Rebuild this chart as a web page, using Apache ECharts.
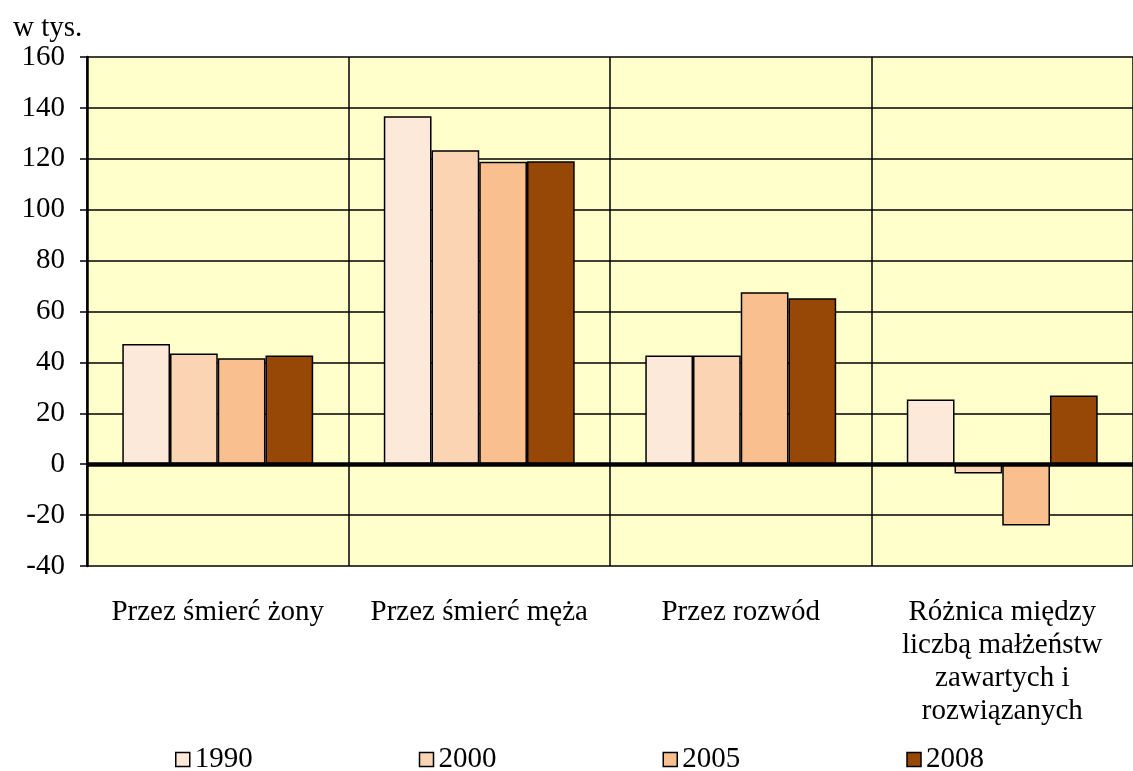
<!DOCTYPE html>
<html><head><meta charset="utf-8">
<script src="https://cdn.jsdelivr.net/npm/echarts@6/dist/echarts.min.js"></script>
<style>html,body{margin:0;padding:0;background:#fff}#c{width:1133px;height:771px}</style>
</head><body><div id="c"></div>
<script>
const categories = ['Przez śmierć żony', 'Przez śmierć męża', 'Przez rozwód', 'Różnica między\nliczbą małżeństw\nzawartych i\nrozwiązanych'];
const years = ['1990', '2000', '2005', '2008'];
const v1990 = [47.2, 136.7, 42.7, 25.4];
const v2000 = [43.5, 123.4, 42.7, -3.7];
const v2005 = [41.6, 118.8, 67.6, -24.1];
const v2008 = [42.7, 119.0, 65.2, 27.0];
const colors = ['#FDE9D9', '#FBD4B4', '#F9BF8F', '#974806'];
const yTicks = {min: -40, max: 160, interval: 20};

const font = 'Liberation Serif, Times New Roman, serif';
const values = [v1990, v2000, v2005, v2008];
const series = years.map((y, i) => ({
  name: y, type: 'bar', data: values[i],
  barGap: '0%', barCategoryGap: '27%',
  itemStyle: {color: colors[i], borderColor: '#000', borderWidth: 1.5},
  emphasis: {disabled: true}
}));
series[0].markLine = {
  silent: true, symbol: 'none', label: {show: false},
  lineStyle: {color: '#000', width: 4.5, type: 'solid'},
  data: [{yAxis: 0}]
};
const chart = echarts.init(document.getElementById('c'), null, {renderer: 'canvas'});
chart.setOption({
  animation: false,
  backgroundColor: '#fff',
  title: {text: 'w tys.', left: 8, top: 9, textStyle: {fontFamily: font, fontSize: 29, fontWeight: 'normal', color: '#000'}},
  grid: {left: 87, top: 57, width: 1052, height: 509, backgroundColor: '#FFFFCC', show: true, borderWidth: 0},
  legend: {
    top: 740, left: 170, itemGap: 166, itemWidth: 14, itemHeight: 14, icon: 'rect',
    itemStyle: {borderColor: '#000', borderWidth: 1.5},
    textStyle: {fontFamily: font, fontSize: 29, color: '#000', padding: [0, 0, 0, 0]},
    data: years
  },
  xAxis: {
    type: 'category', data: categories,
    axisLine: {onZero: false, show: false},
    axisTick: {show: false},
    splitLine: {show: true, lineStyle: {color: '#000', width: 1.5}},
    axisLabel: {fontFamily: font, fontSize: 29, color: '#000', margin: 30, lineHeight: 33, interval: 0, verticalAlign: 'top'}
  },
  yAxis: {
    type: 'value', min: yTicks.min, max: yTicks.max, interval: yTicks.interval,
    axisLine: {show: true, lineStyle: {color: '#000', width: 2.5}},
    axisTick: {show: true, length: 7, lineStyle: {color: '#000', width: 1.5}},
    splitLine: {show: true, lineStyle: {color: '#000', width: 1.5}},
    axisLabel: {fontFamily: font, fontSize: 29, color: '#000', margin: 22}
  },
  series: series
});
</script></body></html>
